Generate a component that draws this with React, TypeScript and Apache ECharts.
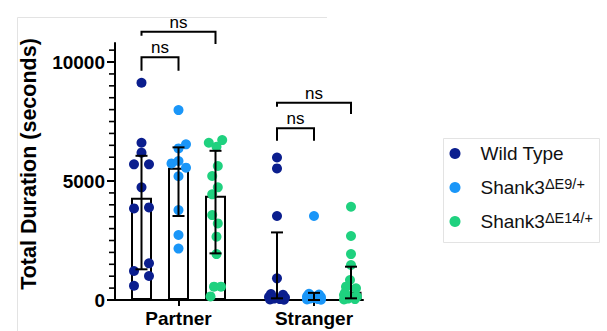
import React, { useEffect, useRef } from "react";
import * as echarts from "echarts";

const categories = ["Partner", "Stranger"];
const genotypes = ["Wild Type", "Shank3ΔE9/+", "Shank3ΔE14/+"];
const yTickLabels = [0, 5000, 10000];
const yMinorTicks = [500, 1000, 1500, 2000, 2500, 3000, 3500, 4000, 4500, 5500, 6000, 6500, 7000, 7500, 8000, 8500, 9000, 9500, 10500];

// bar heights per category (Partner, Stranger)
const wtMeans = [4300, 250];
const e9Means = [5560, 120];
const e14Means = [4380, 350];

// error bars [low, high] per category
const wtErr = [[1290, 6060], [70, 2840]];
const e9Err = [[3530, 6415], [0, 300]];
const e14Err = [[1960, 6270], [70, 1400]];

// individual animals: [value, horizontal jitter]
const wtPartner = [[9130, 0], [6610, 0], [6190, 0], [5700, -7.5], [5700, 7.5], [4735, 0], [3850, -7.5], [3890, 7.5], [1540, 7.5], [1220, -7.5], [1010, 7.5], [600, -7.5]];
const e9Partner = [[7980, 0], [6540, 7.5], [6370, 0], [5740, -7], [5840, 0], [5560, 7.5], [5200, 0], [3780, 0], [2730, 0], [2160, 0]];
const e14Partner = [[6720, 6.7], [6610, -6.7], [6440, 1], [5630, 2.3], [5210, -3.3], [4735, 2.3], [4440, -3.3], [3570, -3.3], [3220, 2.3], [2660, 1], [1930, 1], [560, -1.5], [560, 5.5], [150, -5]];
const wtStranger = [[5990, 0], [5530, 0], [3530, 0], [910, 0], [250, -6], [220, 6], [130, -8], [100, 8], [60, -3], [40, 3], [20, -7], [10, 7]];
const e9Stranger = [[3530, 0], [260, -5], [230, 5], [150, -7], [120, 7], [90, 0], [60, -4], [40, 4], [20, -7], [10, 7]];
const e14Stranger = [[3920, 0], [2690, 0], [1930, 0], [1470, 0], [840, -1], [560, -5], [490, 5], [300, -6], [210, -7], [140, 6], [130, 0], [60, -3], [40, 4], [20, -7]];

// significance brackets: [category, genotype A, genotype B, bar value, left leg end, right leg end]
const brackets = [
  [0, 0, 1, 10197, 9634, 9634],
  [0, 0, 2, 11273, 11105, 10756],
  [1, 0, 1, 7214, 6693, 6693],
  [1, 0, 2, 8290, 8122, 7815],
];
const bracketLabels = ["ns", "ns", "ns", "ns"];

const colors = ["#0b1e8e", "#1a96f8", "#1fd17f"];
const FONT = "'Liberation Sans', Arial, Helvetica, sans-serif";

// layout on the value x-axis
const xCenters = [63.5, 199];
const groupOffset = [-37, 0, 37];

export default function App() {
  const ref = useRef<HTMLDivElement>(null);
  useEffect(() => {
    if (!ref.current) return;
    const chart = echarts.init(ref.current, undefined, { renderer: "svg" });
    const means = [wtMeans, e9Means, e14Means];
    const errs = [wtErr, e9Err, e14Err];
    const points = [
      [wtPartner, wtStranger],
      [e9Partner, e9Stranger],
      [e14Partner, e14Stranger],
    ];
    const xPos = (ci: number, g: number) => xCenters[ci] + groupOffset[g];

    const barData: number[][] = [];
    const errData: number[][] = [];
    categories.forEach((_, ci) => {
      genotypes.forEach((__, g) => {
        barData.push([xPos(ci, g), means[g][ci]]);
        errData.push([xPos(ci, g), errs[g][ci][0], errs[g][ci][1]]);
      });
    });
    const bracketData = brackets.map(([ci, a, b, yBar, yA, yB]) => [xPos(ci, a), xPos(ci, b), yBar, yA, yB]);

    const scatterSeries = genotypes.map((name, g) => ({
      type: "scatter",
      name,
      z: 3,
      symbol: "circle",
      symbolSize: 10,
      itemStyle: { color: colors[g], opacity: 1 },
      data: categories.flatMap((_, ci) => points[g][ci].map(([v, j]) => [xPos(ci, g) + j, v])),
    }));

    const black = { stroke: "#000", lineWidth: 2 };

    chart.setOption({
      animation: false,
      grid: { left: 115, right: 244, top: 43, bottom: 31 },
      xAxis: {
        type: "value",
        min: 0,
        max: 248,
        splitLine: { show: false },
        axisLine: { show: true, lineStyle: { color: "#000", width: 2 } },
        axisTick: { show: true, customValues: xCenters, length: 6, lineStyle: { color: "#000", width: 2 } },
        axisLabel: {
          customValues: xCenters,
          formatter: (v: number) => categories[xCenters.indexOf(v)] ?? "",
          color: "#000",
          fontFamily: FONT,
          fontWeight: "bold",
          fontSize: 19,
          margin: 9,
        },
      },
      yAxis: {
        type: "value",
        min: 0,
        max: 10800,
        position: "left",
        splitLine: { show: false },
        axisLine: { show: true, lineStyle: { color: "#000", width: 2 } },
        axisTick: { show: true, customValues: yTickLabels, length: 8, lineStyle: { color: "#000", width: 2 } },
        axisLabel: {
          customValues: yTickLabels,
          formatter: (v: number) => String(v),
          color: "#000",
          fontFamily: FONT,
          fontWeight: "bold",
          fontSize: 19,
          margin: 10,
        },
      },
      legend: {
        data: genotypes,
        orient: "vertical",
        left: 444.5,
        top: 137.5,
        icon: "circle",
        itemWidth: 41,
        itemHeight: 11,
        itemGap: 12,
        formatter: (name: string) => {
          const m = name.match(/^(Shank3)(.+)$/);
          return m ? `${m[1]}{sup|${m[2]}}` : name;
        },
        textStyle: {
          fontFamily: FONT,
          fontSize: 19,
          lineHeight: 22,
          color: "#111",
          rich: {
            sup: { fontFamily: FONT, fontSize: 14.5, lineHeight: 11, verticalAlign: "top", color: "#111" },
          },
        },
      },
      graphic: [
        { type: "polyline", shape: { points: [[17.5, 331], [17.5, 17.5], [327, 17.5]] }, style: { stroke: "#e3e3e3", fill: null, lineWidth: 1 }, silent: true },
        { type: "rect", shape: { x: 443.5, y: 138.5, width: 156, height: 104 }, style: { stroke: "#e3e3e3", fill: null, lineWidth: 1 }, silent: true },
        {
          type: "text",
          x: 29,
          y: 164,
          rotation: Math.PI / 2,
          style: { text: "Total Duration (seconds)", font: `bold 21.5px ${FONT}`, fill: "#000", align: "center", verticalAlign: "middle" },
        },
      ],
      series: [
        {
          type: "bar",
          name: "mean",
          z: 1,
          barWidth: 21,
          itemStyle: { color: "#fff", borderColor: "#000", borderWidth: 2 },
          data: barData,
        },
        ...scatterSeries,
        {
          type: "scatter",
          name: "minorTicks",
          z: 5,
          clip: false,
          silent: true,
          symbol: "rect",
          symbolSize: [6, 1.6],
          symbolOffset: [-3, 0],
          itemStyle: { color: "#000", opacity: 1 },
          data: yMinorTicks.map((v) => [0, v]),
        },
        {
          type: "custom",
          name: "error",
          z: 4,
          clip: false,
          encode: { x: 0, y: [1, 2] },
          data: errData,
          renderItem: (_p: any, api: any) => {
            const x = api.value(0);
            const lo = api.coord([x, api.value(1)]);
            const hi = api.coord([x, api.value(2)]);
            const cap = 6;
            return {
              type: "group",
              children: [
                { type: "line", shape: { x1: lo[0], y1: lo[1], x2: hi[0], y2: hi[1] }, style: black },
                { type: "line", shape: { x1: hi[0] - cap, y1: hi[1], x2: hi[0] + cap, y2: hi[1] }, style: black },
                { type: "line", shape: { x1: lo[0] - cap, y1: lo[1], x2: lo[0] + cap, y2: lo[1] }, style: black },
              ],
            };
          },
        },
        {
          type: "custom",
          name: "brackets",
          z: 4,
          clip: false,
          encode: { x: [0, 1], y: [2, 3, 4] },
          data: bracketData,
          renderItem: (p: any, api: any) => {
            const a = api.coord([api.value(0), api.value(2)]);
            const b = api.coord([api.value(1), api.value(2)]);
            const aLeg = api.coord([api.value(0), api.value(3)]);
            const bLeg = api.coord([api.value(1), api.value(4)]);
            return {
              type: "group",
              children: [
                {
                  type: "polyline",
                  shape: { points: [aLeg, a, b, bLeg] },
                  style: { stroke: "#000", lineWidth: 2, fill: null },
                },
                {
                  type: "text",
                  x: (a[0] + b[0]) / 2,
                  y: a[1] - 1,
                  style: { text: bracketLabels[p.dataIndex], font: `17px ${FONT}`, fill: "#000", align: "center", verticalAlign: "bottom" },
                },
              ],
            };
          },
        },
      ],
    });
    return () => chart.dispose();
  }, []);
  return <div ref={ref} style={{ position: "fixed", left: 0, top: 0, width: 607, height: 331, background: "#fff" }} />;
}
